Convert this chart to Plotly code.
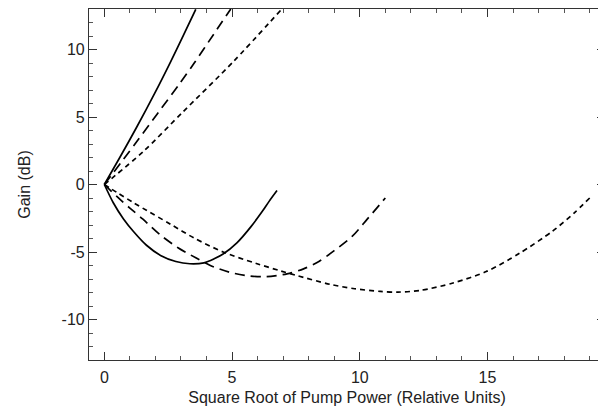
import plotly.graph_objects as go

# Upper (gain) branches
solid_up_x = [0, 0.6, 1.27, 1.98, 2.57, 3.09, 3.58]
solid_up_y = [0, 1.98, 4.26, 6.78, 8.99, 11.02, 12.98]
long_up_x = [0, 1.2, 2.1, 2.96, 3.52, 4.27, 4.95]
long_up_y = [0, 3.0, 5.3, 7.5, 9.0, 11.1, 13.0]
short_up_x = [0, 1.53, 3.09, 5.05, 6.95]
short_up_y = [0, 2.45, 5.4, 9.1, 13.0]

# Lower branches
solid_lo_x = [0, 0.35, 0.75, 1.15, 1.65, 2.2, 2.8, 3.35, 3.9, 4.3, 4.65, 5.2, 5.75, 6.2, 6.45, 6.76]
solid_lo_y = [0, -1.35, -2.55, -3.5, -4.5, -5.25, -5.7, -5.87, -5.8, -5.5, -5.15, -4.3, -3.1, -1.95, -1.25, -0.45]
long_lo_x = [0, 0.5, 1.0, 1.5, 2.2, 2.9, 3.6, 4.15, 4.9, 5.7, 6.35, 7.15, 7.8, 8.4, 9.0, 9.7, 10.3, 11.0]
long_lo_y = [0, -0.9, -1.75, -2.55, -3.75, -4.7, -5.45, -6.0, -6.5, -6.78, -6.82, -6.62, -6.25, -5.7, -4.9, -3.85, -2.55, -1.0]
short_lo_x = [0, 0.5, 1.1, 1.5, 2.6, 3.5, 4.65, 5.95, 6.9, 7.55, 8.85, 9.8, 10.8, 11.5, 12.35, 13.65, 14.95, 16.25, 17.55, 18.4, 19.0]
short_lo_y = [0, -0.6, -1.3, -1.75, -2.95, -3.95, -5.0, -5.85, -6.4, -6.75, -7.4, -7.72, -7.92, -7.97, -7.85, -7.3, -6.45, -5.1, -3.45, -2.1, -1.0]

x_ticks = [0, 5, 10, 15]
y_ticks = [-10, -5, 0, 5, 10]

fig = go.Figure()
styles = [
    (solid_up_x, solid_up_y, "solid"),
    (long_up_x, long_up_y, "10px,6px"),
    (short_up_x, short_up_y, "5px,4px"),
    (solid_lo_x, solid_lo_y, "solid"),
    (long_lo_x, long_lo_y, "10px,6px"),
    (short_lo_x, short_lo_y, "5px,4px"),
]
for xs, ys, dash in styles:
    fig.add_trace(go.Scatter(x=xs, y=ys, mode="lines",
                             line=dict(color="black", width=1.7, dash=dash, shape="spline", smoothing=0.8),
                             showlegend=False, hoverinfo="skip"))

FONT = "Liberation Sans, Arial, sans-serif"
axis_common = dict(
    showgrid=False, zeroline=False, showline=True, linecolor="#333333", linewidth=1.2,
    mirror="allticks", ticks="inside", ticklen=8, tickwidth=1, tickcolor="#333333",
    tickfont=dict(family=FONT, size=16, color="#222222"),
    minor=dict(dtick=1, ticks="inside", ticklen=4, tickwidth=1, tickcolor="#555555"),
    automargin=False,
)

# page body has an 8px margin, so the figure is sized/offset to compensate
fig.update_layout(
    width=598, height=398,
    margin=dict(l=81, r=1, t=1, b=46),
    paper_bgcolor="white", plot_bgcolor="white",
    font=dict(family=FONT, size=16, color="#222222"),
    xaxis=dict(range=[-0.6, 19.6], tickvals=x_ticks, ticktext=[str(v) for v in x_ticks],
               ticklabelstandoff=3,
               title=dict(text="Square Root of Pump Power (Relative Units)", standoff=6,
                          font=dict(size=16)), **axis_common),
    yaxis=dict(range=[-13, 13], tickvals=y_ticks, ticktext=[str(v) for v in y_ticks],
               title=dict(text="Gain (dB)", standoff=26, font=dict(size=16)), **axis_common),
)

fig.write_html("out.html")
